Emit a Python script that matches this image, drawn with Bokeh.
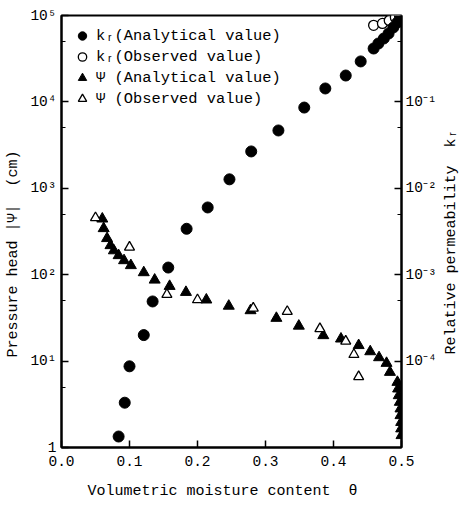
from bokeh.plotting import figure
from bokeh.layouts import row
from bokeh.models import (Range1d, LogScale, LogAxis, FixedTicker, CustomJSTickFormatter,
                          PrintfTickFormatter, Legend, LegendItem, Div)
from bokeh.embed import file_html
from bokeh.resources import INLINE

# Relative permeability k_r, analytical curve
theta_kr_calc = [0.084, 0.093, 0.100, 0.121, 0.134, 0.157, 0.184, 0.215, 0.247, 0.279,
                 0.319, 0.357, 0.388, 0.418, 0.440, 0.459, 0.466, 0.474, 0.481, 0.488,
                 0.494, 0.499]
kr_calc = [1.34e-5, 3.3e-5, 8.7e-5, 2.0e-4, 4.9e-4, 1.21e-3, 3.4e-3, 6.0e-3, 1.27e-2, 2.67e-2,
           4.67e-2, 8.6e-2, 0.143, 0.202, 0.294, 0.415, 0.474, 0.542, 0.619, 0.727,
           0.83, 0.95]

# Relative permeability k_r, observed
theta_kr_obs = [0.459, 0.472, 0.482, 0.491, 0.497]
kr_obs = [0.77, 0.81, 0.875, 0.95, 1.0]

# Pressure head |psi| (cm), analytical curve
theta_psi_calc = [0.060, 0.062, 0.067, 0.072, 0.077, 0.084, 0.092, 0.102, 0.121, 0.137,
                  0.159, 0.183, 0.213, 0.246, 0.278, 0.316, 0.349, 0.385, 0.411, 0.437,
                  0.454, 0.467, 0.478, 0.483, 0.494, 0.495, 0.496, 0.4975, 0.4985, 0.4985,
                  0.4995, 0.4995, 0.500]
psi_calc = [443, 343, 263, 218, 190, 167, 146, 128, 106, 87,
            73.6, 62.7, 51.2, 43.4, 38.5, 31.4, 25.5, 19.8, 18.1, 15.2,
            12.9, 11.0, 9.46, 7.44, 5.70, 4.78, 4.0, 3.35, 2.81, 2.35,
            1.96, 1.65, 1.38]

# Pressure head |psi| (cm), observed
theta_psi_obs = [0.050, 0.100, 0.155, 0.200, 0.282, 0.332, 0.380, 0.418, 0.430, 0.437]
psi_obs = [456, 208, 59, 51.2, 41, 37.5, 23.7, 17, 11.9, 6.6]

x_ticks = [0.0, 0.1, 0.2, 0.3, 0.4, 0.5]
psi_ticks = [1, 10, 100, 1e3, 1e4, 1e5]
psi_minor = [5, 50, 500, 5e3, 5e4]
kr_ticks = [1e-4, 1e-3, 1e-2, 1e-1]
kr_minor = [5e-5, 5e-4, 5e-3, 5e-2, 5e-1]

FONT = "Liberation Mono"
NB = "\u00a0"

p = figure(width=440, height=506, output_backend="svg", toolbar_location=None,
           x_range=Range1d(0, 0.5), y_range=Range1d(1, 1e5), y_axis_type="log",
           min_border_left=61, min_border_right=39, min_border_top=15, min_border_bottom=59)
p.extra_y_ranges = {"kr": Range1d(1e-5, 1)}
p.extra_y_scales = {"kr": LogScale()}
p.grid.visible = False
p.outline_line_color = "black"
p.outline_line_width = 2
p.background_fill_color = "white"
p.border_fill_color = "white"

# powers of ten with superscript exponents; 10^0 shown as "1"
sup_fmt = CustomJSTickFormatter(code="""
const sup = {"0": "\u2070", "1": "\u00b9", "2": "\u00b2", "3": "\u00b3",
             "4": "\u2074", "5": "\u2075", "-": "\u207b"};
const e = Math.round(Math.log10(tick));
if (e === 0) { return "1"; }
return "10" + String(e).split("").map(c => sup[c]).join("");
""")


def style_axis(ax):
    ax.axis_line_width = 2
    ax.major_tick_in = 7
    ax.major_tick_out = 0
    ax.minor_tick_in = 4
    ax.minor_tick_out = 0
    ax.major_tick_line_width = 1.5
    ax.minor_tick_line_width = 1.2
    ax.major_label_text_font = FONT
    ax.major_label_text_font_size = "14.5px"
    ax.major_label_text_color = "black"
    ax.axis_label_text_font = FONT
    ax.axis_label_text_font_size = "15px"
    ax.axis_label_text_font_style = "normal"
    ax.axis_label_text_color = "black"


xa = p.xaxis[0]
style_axis(xa)
xa.ticker = FixedTicker(ticks=x_ticks)
xa.formatter = PrintfTickFormatter(format="%.1f")
xa.minor_tick_line_color = None
xa.major_label_standoff = 8
# trailing non-breaking spaces pull the visible text a little left of centre
xa.axis_label = "Volumetric moisture content" + NB + NB + "\u03b8" + NB * 2
xa.axis_label_standoff = 14

ya = p.yaxis[0]
style_axis(ya)
ya.ticker = FixedTicker(ticks=psi_ticks, minor_ticks=psi_minor)
ya.formatter = sup_fmt
ya.major_label_standoff = 5
# trailing non-breaking spaces push the visible text below centre
ya.axis_label = "Pressure head |\u03a8|" + NB + NB + "(cm)" + NB * 5
ya.axis_label_standoff = 5

kr_axis = LogAxis(y_range_name="kr", ticker=FixedTicker(ticks=kr_ticks, minor_ticks=kr_minor),
                  formatter=sup_fmt)
style_axis(kr_axis)
kr_axis.major_label_standoff = 4
p.add_layout(kr_axis, "right")

r_kr_obs = p.scatter(theta_kr_obs, kr_obs, y_range_name="kr", marker="circle", size=10,
                     fill_color="white", line_color="black", line_width=1.3)
r_kr_calc = p.scatter(theta_kr_calc, kr_calc, y_range_name="kr", marker="circle", size=11,
                      fill_color="black", line_color="black")
r_psi_calc = p.scatter(theta_psi_calc, psi_calc, marker="triangle", size=11,
                       fill_color="black", line_color="black")
r_psi_obs = p.scatter(theta_psi_obs, psi_obs, marker="triangle", size=10,
                      fill_color="white", line_color="black", line_width=1.3)

legend = Legend(items=[
    LegendItem(label="k\u1d63(Analytical value)", renderers=[r_kr_calc]),
    LegendItem(label="k\u1d63(Observed value)", renderers=[r_kr_obs]),
    LegendItem(label="\u03a8 (Analytical value)", renderers=[r_psi_calc]),
    LegendItem(label="\u03a8 (Observed value)", renderers=[r_psi_obs]),
], location=(9, 338))
legend.border_line_color = None
legend.background_fill_alpha = 0
legend.padding = 0
legend.margin = 0
legend.spacing = 0
legend.glyph_height = 21
legend.glyph_width = 24
legend.label_height = 21
legend.label_standoff = 2
legend.label_text_font = FONT
legend.label_text_font_size = "15.4px"
legend.label_text_color = "black"
p.add_layout(legend)

# right-hand axis title, read from bottom to top
kr_title = Div(
    text=('<div style="position:relative; width:21px; height:506px;">'
          '<div style="position:absolute; left:3px; top:242px; writing-mode:vertical-rl; '
          'transform:translateY(-50%) rotate(180deg); white-space:nowrap; '
          "font-family:'Liberation Mono'; font-size:15px; line-height:17px; color:black;\">"
          'Relative permeability&nbsp;&nbsp;k\u1d63</div></div>'),
    width=21, height=506, margin=0)

layout = row(p, kr_title, spacing=0)
layout.margin = 0

open("out.html", "w").write(file_html(layout, INLINE))
